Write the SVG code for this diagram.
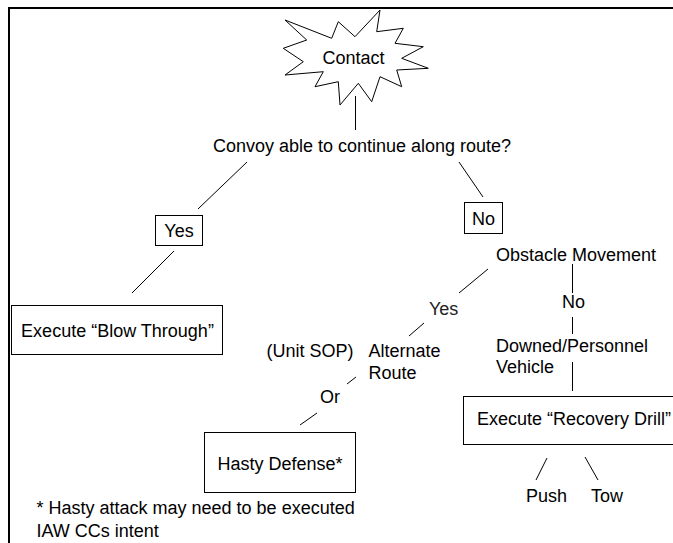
<svg xmlns="http://www.w3.org/2000/svg" width="673" height="543" viewBox="0 0 673 543">
<style>
text{font-family:"Liberation Sans",Arial,sans-serif;font-size:18px;fill:#000}
.c{text-anchor:middle}
.box{fill:#fff;stroke:#000;stroke-width:1}
.ln{stroke:#000;stroke-width:1;fill:none}
</style>
<rect x="0" y="0" width="673" height="543" fill="#fff"/>
<rect x="9" y="8" width="700" height="600" fill="none" stroke="#000" stroke-width="2"/>
<g id="connectors">
<line class="ln" x1="355.5" y1="96" x2="355.5" y2="130"/>
<line class="ln" x1="247" y1="162" x2="198" y2="209"/>
<line class="ln" x1="459" y1="162" x2="483" y2="197"/>
<line class="ln" x1="174" y1="251" x2="132" y2="293"/>
<line class="ln" x1="488" y1="269" x2="459" y2="293"/>
<line class="ln" x1="424" y1="323" x2="409" y2="336"/>
<line class="ln" x1="572.5" y1="264" x2="572.5" y2="293"/>
<line class="ln" x1="572.5" y1="317" x2="572.5" y2="334"/>
<line class="ln" x1="572.5" y1="362" x2="572.5" y2="391"/>
<line class="ln" x1="356" y1="377" x2="347" y2="384"/>
<line class="ln" x1="317" y1="413" x2="300" y2="425"/>
<line class="ln" x1="547" y1="458" x2="536" y2="480"/>
<line class="ln" x1="585" y1="457" x2="598" y2="480"/>
</g>
<g id="contact">
<polygon class="box" points="285,20 331.7,38.3 338.3,21.7 355,36.7 380,10 376.7,31.7 403.3,28.3 395,43.3 423.3,46.7 401.7,58.3 428.3,68.3 396.7,70 401.7,86.7 380,76.7 371.7,101.7 358.3,83.3 340,105 338.3,81.7 315,86.7 323.3,71.7 285,75 303.3,61.7 283.3,48.3 306.7,40"/>
<text class="c" x="353.5" y="64">Contact</text>
</g>
<g id="question">
<text class="c" x="362" y="152">Convoy able to continue along route?</text>
</g>
<g id="yes1">
<rect class="box" x="155.5" y="215.5" width="47" height="30"/>
<text class="c" x="179" y="237">Yes</text>
</g>
<g id="no1">
<rect class="box" x="464.5" y="202.5" width="38" height="31"/>
<text class="c" x="483.5" y="225">No</text>
</g>
<g id="blow-through">
<rect class="box" x="11.5" y="305.5" width="211" height="49"/>
<text class="c" x="117.5" y="337">Execute “Blow Through”</text>
</g>
<g id="obstacle">
<text x="496" y="261">Obstacle Movement</text>
</g>
<g id="yes2">
<text x="429" y="315" style="fill:#222">Yes</text>
</g>
<g id="no2">
<text class="c" x="573.5" y="308">No</text>
</g>
<g id="downed">
<text x="496" y="352">Downed/Personnel</text>
<text x="496" y="372.5">Vehicle</text>
</g>
<g id="unit-sop">
<text x="266.5" y="357">(Unit SOP)</text>
</g>
<g id="alternate">
<text x="368.5" y="357">Alternate</text>
<text x="368.5" y="378.5">Route</text>
</g>
<g id="or">
<text x="320" y="403">Or</text>
</g>
<g id="hasty">
<rect class="box" x="204.5" y="432.5" width="151" height="60"/>
<text class="c" x="280" y="470">Hasty Defense*</text>
</g>
<g id="recovery">
<rect class="box" x="463.5" y="396.5" width="230" height="48"/>
<text x="477" y="425">Execute “Recovery Drill”</text>
</g>
<g id="push">
<text x="526" y="502">Push</text>
</g>
<g id="tow">
<text x="591" y="502">Tow</text>
</g>
<g id="footnote">
<text x="36.5" y="514">* Hasty attack may need to be executed</text>
<text x="36.5" y="536.5">IAW CCs intent</text>
</g>
</svg>
